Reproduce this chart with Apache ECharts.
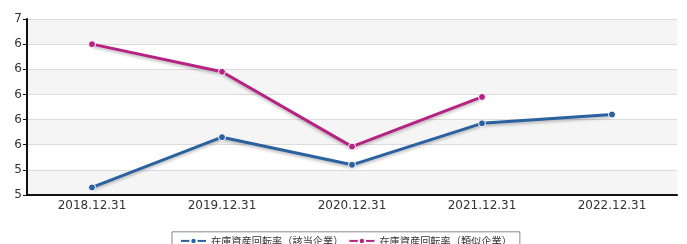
<!DOCTYPE html>
<html>
<head>
<meta charset="utf-8">
<script src="https://cdn.jsdelivr.net/npm/echarts@6/dist/echarts.min.js"></script>
<style>
  html, body { margin: 0; padding: 0; background: #fff; }
  #chart { width: 687px; height: 244px; }
</style>
</head>
<body>
<div id="chart"></div>
<script>
var years = ['2018.12.31', '2019.12.31', '2020.12.31', '2021.12.31', '2022.12.31'];
var ownName = '在庫資産回転率（該当企業）';
var peerName = '在庫資産回転率（類似企業）';
var ownValues = [5.26, 5.66, 5.44, 5.77, 5.84];
var peerValues = [6.4, 6.18, 5.585, 5.98, null];

var chart = echarts.init(document.getElementById('chart'));

function lineSeries(name, data, color) {
    return {
        name: name,
        type: 'line',
        data: data,
        symbol: 'circle',
        symbolSize: 7,
        lineStyle: {
            width: 3,
            color: color,
            shadowColor: 'rgba(0,0,0,0.25)',
            shadowBlur: 3,
            shadowOffsetY: 2
        },
        itemStyle: {
            color: color,
            borderColor: '#fff',
            borderWidth: 1
        }
    };
}

chart.setOption({
    animation: false,
    textStyle: { fontFamily: '"Noto Sans CJK JP", "DejaVu Sans", sans-serif' },
    grid: { left: 27, right: 10, top: 19, bottom: 49 },
    legend: {
        bottom: -6,
        left: 172,
        itemWidth: 25,
        itemHeight: 8,
        itemGap: 5,
        padding: [4, 8],
        borderColor: '#888',
        borderWidth: 1,
        textStyle: { fontSize: 10.2, color: '#333' },
        data: [ownName, peerName]
    },
    xAxis: {
        type: 'category',
        data: years,
        axisLine: { lineStyle: { color: '#111', width: 2 } },
        axisTick: { alignWithLabel: true, length: 4, lineStyle: { color: '#111' } },
        axisLabel: { fontSize: 12, fontFamily: '"DejaVu Sans", sans-serif', color: '#333', margin: 5 }
    },
    yAxis: {
        type: 'value',
        min: 5.2,
        max: 6.6,
        interval: 0.2,
        axisLine: { show: true, lineStyle: { color: '#111', width: 2 } },
        axisTick: { show: true, length: 4, lineStyle: { color: '#111' } },
        axisLabel: {
            fontSize: 12,
            fontFamily: '"DejaVu Sans", sans-serif',
            color: '#333',
            margin: 5,
            formatter: function (v) { return Math.round(v); }
        },
        splitLine: { lineStyle: { color: '#dcdcdc' } },
        splitArea: { show: true, areaStyle: { color: ['#f5f5f5', '#ffffff'] } }
    },
    series: [
        lineSeries(ownName, ownValues, '#2a619e'),
        lineSeries(peerName, peerValues, '#b62483')
    ]
});
</script>
</body>
</html>
